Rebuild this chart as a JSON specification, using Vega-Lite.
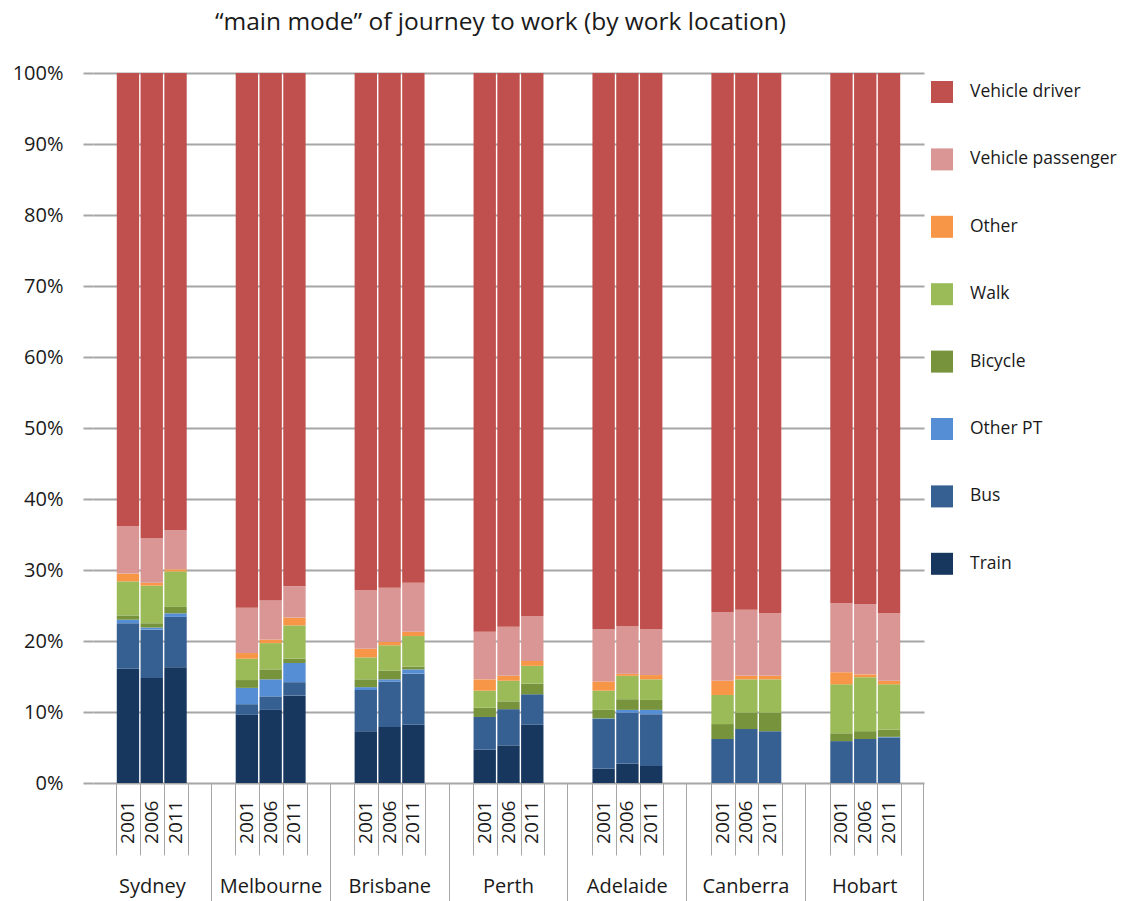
{
  "$schema": "https://vega.github.io/schema/vega-lite/v6.json",
  "width": 831,
  "height": 710,
  "autosize": "none",
  "padding": {"left": 93, "top": 73, "right": 203, "bottom": 118},
  "background": "white",
  "title": {"text": "“main mode” of journey to work (by work location)", "font": "Open Sans", "fontSize": 24.5, "fontWeight": "normal", "color": "#1a1a1a", "anchor": "middle", "frame": "group", "offset": 28, "dx": -8},
  "config": {"view": {"stroke": null}, "font": "Open Sans"},
  "data": {"values": [
    {"city":"Sydney","year":"2001","mode":"Train","pct":16.1},{"city":"Sydney","year":"2001","mode":"Bus","pct":6.4},{"city":"Sydney","year":"2001","mode":"Other PT","pct":0.5},{"city":"Sydney","year":"2001","mode":"Bicycle","pct":0.6},{"city":"Sydney","year":"2001","mode":"Walk","pct":4.8},{"city":"Sydney","year":"2001","mode":"Other","pct":1.1},{"city":"Sydney","year":"2001","mode":"Vehicle passenger","pct":6.7},{"city":"Sydney","year":"2001","mode":"Vehicle driver","pct":63.8},
    {"city":"Sydney","year":"2006","mode":"Train","pct":14.8},{"city":"Sydney","year":"2006","mode":"Bus","pct":6.8},{"city":"Sydney","year":"2006","mode":"Other PT","pct":0.3},{"city":"Sydney","year":"2006","mode":"Bicycle","pct":0.6},{"city":"Sydney","year":"2006","mode":"Walk","pct":5.3},{"city":"Sydney","year":"2006","mode":"Other","pct":0.4},{"city":"Sydney","year":"2006","mode":"Vehicle passenger","pct":6.3},{"city":"Sydney","year":"2006","mode":"Vehicle driver","pct":65.5},
    {"city":"Sydney","year":"2011","mode":"Train","pct":16.3},{"city":"Sydney","year":"2011","mode":"Bus","pct":7.1},{"city":"Sydney","year":"2011","mode":"Other PT","pct":0.5},{"city":"Sydney","year":"2011","mode":"Bicycle","pct":0.9},{"city":"Sydney","year":"2011","mode":"Walk","pct":5.0},{"city":"Sydney","year":"2011","mode":"Other","pct":0.3},{"city":"Sydney","year":"2011","mode":"Vehicle passenger","pct":5.5},{"city":"Sydney","year":"2011","mode":"Vehicle driver","pct":64.4},
    {"city":"Melbourne","year":"2001","mode":"Train","pct":9.6},{"city":"Melbourne","year":"2001","mode":"Bus","pct":1.5},{"city":"Melbourne","year":"2001","mode":"Other PT","pct":2.3},{"city":"Melbourne","year":"2001","mode":"Bicycle","pct":1.1},{"city":"Melbourne","year":"2001","mode":"Walk","pct":3.0},{"city":"Melbourne","year":"2001","mode":"Other","pct":0.8},{"city":"Melbourne","year":"2001","mode":"Vehicle passenger","pct":6.4},{"city":"Melbourne","year":"2001","mode":"Vehicle driver","pct":75.3},
    {"city":"Melbourne","year":"2006","mode":"Train","pct":10.3},{"city":"Melbourne","year":"2006","mode":"Bus","pct":1.9},{"city":"Melbourne","year":"2006","mode":"Other PT","pct":2.4},{"city":"Melbourne","year":"2006","mode":"Bicycle","pct":1.4},{"city":"Melbourne","year":"2006","mode":"Walk","pct":3.7},{"city":"Melbourne","year":"2006","mode":"Other","pct":0.5},{"city":"Melbourne","year":"2006","mode":"Vehicle passenger","pct":5.5},{"city":"Melbourne","year":"2006","mode":"Vehicle driver","pct":74.3},
    {"city":"Melbourne","year":"2011","mode":"Train","pct":12.3},{"city":"Melbourne","year":"2011","mode":"Bus","pct":1.9},{"city":"Melbourne","year":"2011","mode":"Other PT","pct":2.7},{"city":"Melbourne","year":"2011","mode":"Bicycle","pct":0.6},{"city":"Melbourne","year":"2011","mode":"Walk","pct":4.7},{"city":"Melbourne","year":"2011","mode":"Other","pct":1.1},{"city":"Melbourne","year":"2011","mode":"Vehicle passenger","pct":4.4},{"city":"Melbourne","year":"2011","mode":"Vehicle driver","pct":72.3},
    {"city":"Brisbane","year":"2001","mode":"Train","pct":7.3},{"city":"Brisbane","year":"2001","mode":"Bus","pct":5.8},{"city":"Brisbane","year":"2001","mode":"Other PT","pct":0.4},{"city":"Brisbane","year":"2001","mode":"Bicycle","pct":1.1},{"city":"Brisbane","year":"2001","mode":"Walk","pct":3.1},{"city":"Brisbane","year":"2001","mode":"Other","pct":1.2},{"city":"Brisbane","year":"2001","mode":"Vehicle passenger","pct":8.3},{"city":"Brisbane","year":"2001","mode":"Vehicle driver","pct":72.8},
    {"city":"Brisbane","year":"2006","mode":"Train","pct":7.9},{"city":"Brisbane","year":"2006","mode":"Bus","pct":6.4},{"city":"Brisbane","year":"2006","mode":"Other PT","pct":0.3},{"city":"Brisbane","year":"2006","mode":"Bicycle","pct":1.2},{"city":"Brisbane","year":"2006","mode":"Walk","pct":3.6},{"city":"Brisbane","year":"2006","mode":"Other","pct":0.5},{"city":"Brisbane","year":"2006","mode":"Vehicle passenger","pct":7.6},{"city":"Brisbane","year":"2006","mode":"Vehicle driver","pct":72.5},
    {"city":"Brisbane","year":"2011","mode":"Train","pct":8.2},{"city":"Brisbane","year":"2011","mode":"Bus","pct":7.2},{"city":"Brisbane","year":"2011","mode":"Other PT","pct":0.6},{"city":"Brisbane","year":"2011","mode":"Bicycle","pct":0.4},{"city":"Brisbane","year":"2011","mode":"Walk","pct":4.3},{"city":"Brisbane","year":"2011","mode":"Other","pct":0.6},{"city":"Brisbane","year":"2011","mode":"Vehicle passenger","pct":6.9},{"city":"Brisbane","year":"2011","mode":"Vehicle driver","pct":71.8},
    {"city":"Perth","year":"2001","mode":"Train","pct":4.7},{"city":"Perth","year":"2001","mode":"Bus","pct":4.6},{"city":"Perth","year":"2001","mode":"Other PT","pct":0},{"city":"Perth","year":"2001","mode":"Bicycle","pct":1.3},{"city":"Perth","year":"2001","mode":"Walk","pct":2.4},{"city":"Perth","year":"2001","mode":"Other","pct":1.6},{"city":"Perth","year":"2001","mode":"Vehicle passenger","pct":6.7},{"city":"Perth","year":"2001","mode":"Vehicle driver","pct":78.7},
    {"city":"Perth","year":"2006","mode":"Train","pct":5.3},{"city":"Perth","year":"2006","mode":"Bus","pct":5.1},{"city":"Perth","year":"2006","mode":"Other PT","pct":0},{"city":"Perth","year":"2006","mode":"Bicycle","pct":1.1},{"city":"Perth","year":"2006","mode":"Walk","pct":2.9},{"city":"Perth","year":"2006","mode":"Other","pct":0.7},{"city":"Perth","year":"2006","mode":"Vehicle passenger","pct":6.9},{"city":"Perth","year":"2006","mode":"Vehicle driver","pct":78.0},
    {"city":"Perth","year":"2011","mode":"Train","pct":8.2},{"city":"Perth","year":"2011","mode":"Bus","pct":4.3},{"city":"Perth","year":"2011","mode":"Other PT","pct":0},{"city":"Perth","year":"2011","mode":"Bicycle","pct":1.5},{"city":"Perth","year":"2011","mode":"Walk","pct":2.5},{"city":"Perth","year":"2011","mode":"Other","pct":0.7},{"city":"Perth","year":"2011","mode":"Vehicle passenger","pct":6.3},{"city":"Perth","year":"2011","mode":"Vehicle driver","pct":76.5},
    {"city":"Adelaide","year":"2001","mode":"Train","pct":2.0},{"city":"Adelaide","year":"2001","mode":"Bus","pct":7.0},{"city":"Adelaide","year":"2001","mode":"Other PT","pct":0.1},{"city":"Adelaide","year":"2001","mode":"Bicycle","pct":1.2},{"city":"Adelaide","year":"2001","mode":"Walk","pct":2.7},{"city":"Adelaide","year":"2001","mode":"Other","pct":1.3},{"city":"Adelaide","year":"2001","mode":"Vehicle passenger","pct":7.4},{"city":"Adelaide","year":"2001","mode":"Vehicle driver","pct":78.3},
    {"city":"Adelaide","year":"2006","mode":"Train","pct":2.7},{"city":"Adelaide","year":"2006","mode":"Bus","pct":7.2},{"city":"Adelaide","year":"2006","mode":"Other PT","pct":0.4},{"city":"Adelaide","year":"2006","mode":"Bicycle","pct":1.5},{"city":"Adelaide","year":"2006","mode":"Walk","pct":3.3},{"city":"Adelaide","year":"2006","mode":"Other","pct":0.3},{"city":"Adelaide","year":"2006","mode":"Vehicle passenger","pct":6.7},{"city":"Adelaide","year":"2006","mode":"Vehicle driver","pct":77.9},
    {"city":"Adelaide","year":"2011","mode":"Train","pct":2.4},{"city":"Adelaide","year":"2011","mode":"Bus","pct":7.3},{"city":"Adelaide","year":"2011","mode":"Other PT","pct":0.6},{"city":"Adelaide","year":"2011","mode":"Bicycle","pct":1.4},{"city":"Adelaide","year":"2011","mode":"Walk","pct":2.9},{"city":"Adelaide","year":"2011","mode":"Other","pct":0.6},{"city":"Adelaide","year":"2011","mode":"Vehicle passenger","pct":6.5},{"city":"Adelaide","year":"2011","mode":"Vehicle driver","pct":78.3},
    {"city":"Canberra","year":"2001","mode":"Train","pct":0},{"city":"Canberra","year":"2001","mode":"Bus","pct":6.2},{"city":"Canberra","year":"2001","mode":"Other PT","pct":0},{"city":"Canberra","year":"2001","mode":"Bicycle","pct":2.1},{"city":"Canberra","year":"2001","mode":"Walk","pct":4.1},{"city":"Canberra","year":"2001","mode":"Other","pct":2.0},{"city":"Canberra","year":"2001","mode":"Vehicle passenger","pct":9.7},{"city":"Canberra","year":"2001","mode":"Vehicle driver","pct":75.9},
    {"city":"Canberra","year":"2006","mode":"Train","pct":0},{"city":"Canberra","year":"2006","mode":"Bus","pct":7.6},{"city":"Canberra","year":"2006","mode":"Other PT","pct":0},{"city":"Canberra","year":"2006","mode":"Bicycle","pct":2.3},{"city":"Canberra","year":"2006","mode":"Walk","pct":4.7},{"city":"Canberra","year":"2006","mode":"Other","pct":0.5},{"city":"Canberra","year":"2006","mode":"Vehicle passenger","pct":9.3},{"city":"Canberra","year":"2006","mode":"Vehicle driver","pct":75.6},
    {"city":"Canberra","year":"2011","mode":"Train","pct":0},{"city":"Canberra","year":"2011","mode":"Bus","pct":7.3},{"city":"Canberra","year":"2011","mode":"Other PT","pct":0},{"city":"Canberra","year":"2011","mode":"Bicycle","pct":2.6},{"city":"Canberra","year":"2011","mode":"Walk","pct":4.7},{"city":"Canberra","year":"2011","mode":"Other","pct":0.5},{"city":"Canberra","year":"2011","mode":"Vehicle passenger","pct":8.8},{"city":"Canberra","year":"2011","mode":"Vehicle driver","pct":76.1},
    {"city":"Hobart","year":"2001","mode":"Train","pct":0},{"city":"Hobart","year":"2001","mode":"Bus","pct":5.9},{"city":"Hobart","year":"2001","mode":"Other PT","pct":0},{"city":"Hobart","year":"2001","mode":"Bicycle","pct":1.1},{"city":"Hobart","year":"2001","mode":"Walk","pct":6.9},{"city":"Hobart","year":"2001","mode":"Other","pct":1.7},{"city":"Hobart","year":"2001","mode":"Vehicle passenger","pct":9.7},{"city":"Hobart","year":"2001","mode":"Vehicle driver","pct":74.7},
    {"city":"Hobart","year":"2006","mode":"Train","pct":0},{"city":"Hobart","year":"2006","mode":"Bus","pct":6.2},{"city":"Hobart","year":"2006","mode":"Other PT","pct":0},{"city":"Hobart","year":"2006","mode":"Bicycle","pct":1.1},{"city":"Hobart","year":"2006","mode":"Walk","pct":7.6},{"city":"Hobart","year":"2006","mode":"Other","pct":0.4},{"city":"Hobart","year":"2006","mode":"Vehicle passenger","pct":9.9},{"city":"Hobart","year":"2006","mode":"Vehicle driver","pct":74.8},
    {"city":"Hobart","year":"2011","mode":"Train","pct":0},{"city":"Hobart","year":"2011","mode":"Bus","pct":6.4},{"city":"Hobart","year":"2011","mode":"Other PT","pct":0.1},{"city":"Hobart","year":"2011","mode":"Bicycle","pct":1.0},{"city":"Hobart","year":"2011","mode":"Walk","pct":6.4},{"city":"Hobart","year":"2011","mode":"Other","pct":0.5},{"city":"Hobart","year":"2011","mode":"Vehicle passenger","pct":9.5},{"city":"Hobart","year":"2011","mode":"Vehicle driver","pct":76.1}
  ]},
  "transform": [
    {"calculate": "datum.city + '|' + datum.year", "as": "slot"},
    {"calculate": "indexof(['Train','Bus','Other PT','Bicycle','Walk','Other','Vehicle passenger','Vehicle driver'], datum.mode)", "as": "ord"}
  ],
  "layer": [
    {
      "mark": {"type": "bar"},
      "encoding": {
        "x": {"field": "slot", "type": "nominal",
          "scale": {"domain": ["Sydney|a","Sydney|2001","Sydney|2006","Sydney|2011","Sydney|b","Melbourne|a","Melbourne|2001","Melbourne|2006","Melbourne|2011","Melbourne|b","Brisbane|a","Brisbane|2001","Brisbane|2006","Brisbane|2011","Brisbane|b","Perth|a","Perth|2001","Perth|2006","Perth|2011","Perth|b","Adelaide|a","Adelaide|2001","Adelaide|2006","Adelaide|2011","Adelaide|b","Canberra|a","Canberra|2001","Canberra|2006","Canberra|2011","Canberra|b","Hobart|a","Hobart|2001","Hobart|2006","Hobart|2011","Hobart|b"], "paddingInner": 0.06, "paddingOuter": 0},
          "axis": {"orient": "bottom", "title": null, "offset": 0,
            "values": ["Sydney|2001","Sydney|2006","Sydney|2011","Sydney|b","Melbourne|2001","Melbourne|2006","Melbourne|2011","Melbourne|b","Brisbane|2001","Brisbane|2006","Brisbane|2011","Brisbane|b","Perth|2001","Perth|2006","Perth|2011","Perth|b","Adelaide|2001","Adelaide|2006","Adelaide|2011","Adelaide|b","Canberra|2001","Canberra|2006","Canberra|2011","Canberra|b","Hobart|2001","Hobart|2006","Hobart|2011","Hobart|b"],
            "labelExpr": "indexof(datum.value, '|b') >= 0 ? '' : split(datum.value, '|')[1]",
            "labelAngle": -90, "labelFont": "Open Sans", "labelFontSize": 19, "labelColor": "#1a1a1a",
            "labelPadding": -55, "labelOverlap": false, "labelBound": false, "labelFlush": false,
            "bandPosition": 0, "tickSize": 72, "tickColor": "#a6a6a6", "tickWidth": 1,
            "domain": false, "grid": false}
        },
        "y": {"field": "pct", "type": "quantitative", "stack": "normalize",
          "scale": {"domain": [0, 1]},
          "axis": {"title": null, "format": ".0%", "values": [0,0.1,0.2,0.3,0.4,0.5,0.6,0.7,0.8,0.9,1],
            "tickSize": 10, "tickColor": "#a6a6a6", "tickWidth": 2, "gridColor": "#a6a6a6", "gridWidth": 2,
            "domain": false, "labelFont": "Open Sans", "labelFontSize": 20, "labelPadding": 20, "labelColor": "#1a1a1a"}
        },
        "color": {"field": "mode", "type": "nominal",
          "scale": {"domain": ["Vehicle driver","Vehicle passenger","Other","Walk","Bicycle","Other PT","Bus","Train"],
                    "range": ["#C0504D","#D99694","#F79646","#9BBB59","#77933C","#558ED5","#376092","#17375E"]},
          "legend": {"title": null, "orient": "right", "offset": -1, "padding": 8, "symbolType": "square", "symbolSize": 484,
            "symbolStrokeWidth": 0, "symbolOpacity": 1, "labelFont": "Open Sans", "labelFontSize": 17.5, "labelColor": "#1a1a1a",
            "labelOffset": 17, "rowPadding": 45.4, "labelLimit": 300}
        },
        "order": {"field": "ord", "type": "quantitative"}
      }
    },
    {
      "mark": {"type": "point", "opacity": 0},
      "encoding": {
        "x": {"field": "city", "type": "nominal",
          "scale": {"type": "band", "domain": ["Sydney","Melbourne","Brisbane","Perth","Adelaide","Canberra","Hobart"], "paddingInner": 0, "paddingOuter": 0},
          "axis": {"orient": "bottom", "title": null, "offset": 0, "bandPosition": 1, "tickSize": 118, "tickColor": "#a6a6a6", "tickWidth": 1,
            "labelAngle": 0, "labelFont": "Open Sans", "labelFontSize": 20, "labelColor": "#1a1a1a", "labelPadding": -25,
            "domain": false, "grid": false, "labelBound": false, "labelFlush": false}
        }
      }
    }
  ],
  "resolve": {"scale": {"x": "independent"}, "axis": {"x": "independent"}}
}
